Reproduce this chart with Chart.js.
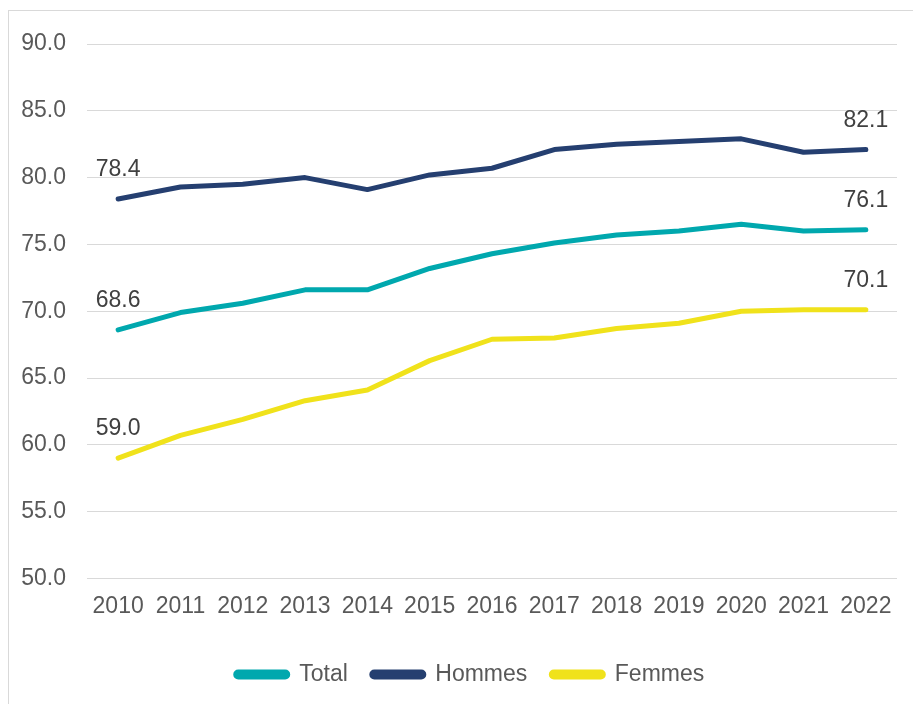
<!DOCTYPE html>
<html>
<head>
<meta charset="utf-8">
<script src="https://cdn.jsdelivr.net/npm/chart.js@4.4.1/dist/chart.umd.min.js"></script>
<style>
  html, body { margin: 0; padding: 0; background: #fff; }
  #wrap { position: relative; width: 913px; height: 704px; }
  #frame { position: absolute; left: 8px; top: 10px; right: 0; bottom: 0;
           border-left: 1px solid #d9d9d9; border-top: 1px solid #d9d9d9; }
  canvas { position: absolute; left: 0; top: 0; }
</style>
</head>
<body>
<div id="wrap">
  <div id="frame"></div>
  <canvas id="myChart" width="913" height="704"></canvas>
</div>
<script>
// years on the x axis
const years = ['2010', '2011', '2012', '2013', '2014', '2015', '2016',
               '2017', '2018', '2019', '2020', '2021', '2022'];

// series values
const total  = [68.6, 69.9, 70.6, 71.6, 71.6, 73.2, 74.3, 75.1, 75.7, 76.0, 76.5, 76.0, 76.1];
const hommes = [78.4, 79.3, 79.5, 80.0, 79.1, 80.2, 80.7, 82.1, 82.5, 82.7, 82.9, 81.9, 82.1];
const femmes = [59.0, 60.7, 61.9, 63.3, 64.1, 66.3, 67.9, 68.0, 68.7, 69.1, 70.0, 70.1, 70.1];

const yMin = 50, yMax = 90, yStep = 5;

const FONT = "'Liberation Sans', Arial, sans-serif";

// value labels on the first and last point of each line
const endLabels = {
  id: 'endLabels',
  afterDatasetsDraw(chart) {
    const ctx = chart.ctx;
    ctx.save();
    ctx.font = '23px ' + FONT;
    ctx.fillStyle = '#404040';
    ctx.textAlign = 'center';
    ctx.textBaseline = 'alphabetic';
    chart.data.datasets.forEach((ds, i) => {
      const meta = chart.getDatasetMeta(i);
      [0, ds.data.length - 1].forEach(idx => {
        const pt = meta.data[idx];
        ctx.fillText(ds.data[idx].toFixed(1), pt.x, pt.y - 23);
      });
    });
    ctx.restore();
  }
};

// the legend in the original sits a bit right of the canvas centre
const shiftLegend = {
  id: 'shiftLegend',
  afterLayout(chart) {
    if (chart.legend) chart.legend.left = 43;
  }
};

const ctx = document.getElementById('myChart').getContext('2d');

new Chart(ctx, {
  type: 'line',
  data: {
    labels: years,
    datasets: [
      { label: 'Total',  data: total,  borderColor: '#00A8AE', backgroundColor: '#00A8AE' },
      { label: 'Hommes', data: hommes, borderColor: '#253F70', backgroundColor: '#253F70' },
      { label: 'Femmes', data: femmes, borderColor: '#F0E21B', backgroundColor: '#F0E21B' }
    ]
  },
  options: {
    responsive: false,
    animation: false,
    devicePixelRatio: 1,
    elements: {
      line: { borderWidth: 5, tension: 0, borderCapStyle: 'round', borderJoinStyle: 'round' },
      point: { radius: 0, hoverRadius: 0 }
    },
    layout: { padding: { left: 0, right: 16, top: 44, bottom: 8 } },
    scales: {
      x: {
        offset: true,
        afterFit(scale) { scale.height += 13; },
        grid: { display: false },
        border: { display: false },
        ticks: { color: '#595959', font: { family: FONT, size: 23 }, padding: 6, maxRotation: 0, autoSkip: false }
      },
      y: {
        min: yMin,
        max: yMax,
        afterFit(scale) { scale.width = 87; },
        grid: { color: '#d9d9d9', lineWidth: 1, drawTicks: false },
        border: { display: false },
        ticks: {
          stepSize: yStep,
          padding: 21,
          color: '#595959',
          font: { family: FONT, size: 23 },
          callback: v => v.toFixed(1)
        }
      }
    },
    plugins: {
      tooltip: { enabled: false },
      legend: {
        position: 'bottom',
        labels: {
          boxWidth: 52,
          boxHeight: 5,
          padding: 24,
          useBorderRadius: true,
          borderRadius: 2.5,
          color: '#595959',
          font: { family: FONT, size: 23 }
        }
      }
    }
  },
  plugins: [endLabels, shiftLegend]
});
</script>
</body>
</html>
